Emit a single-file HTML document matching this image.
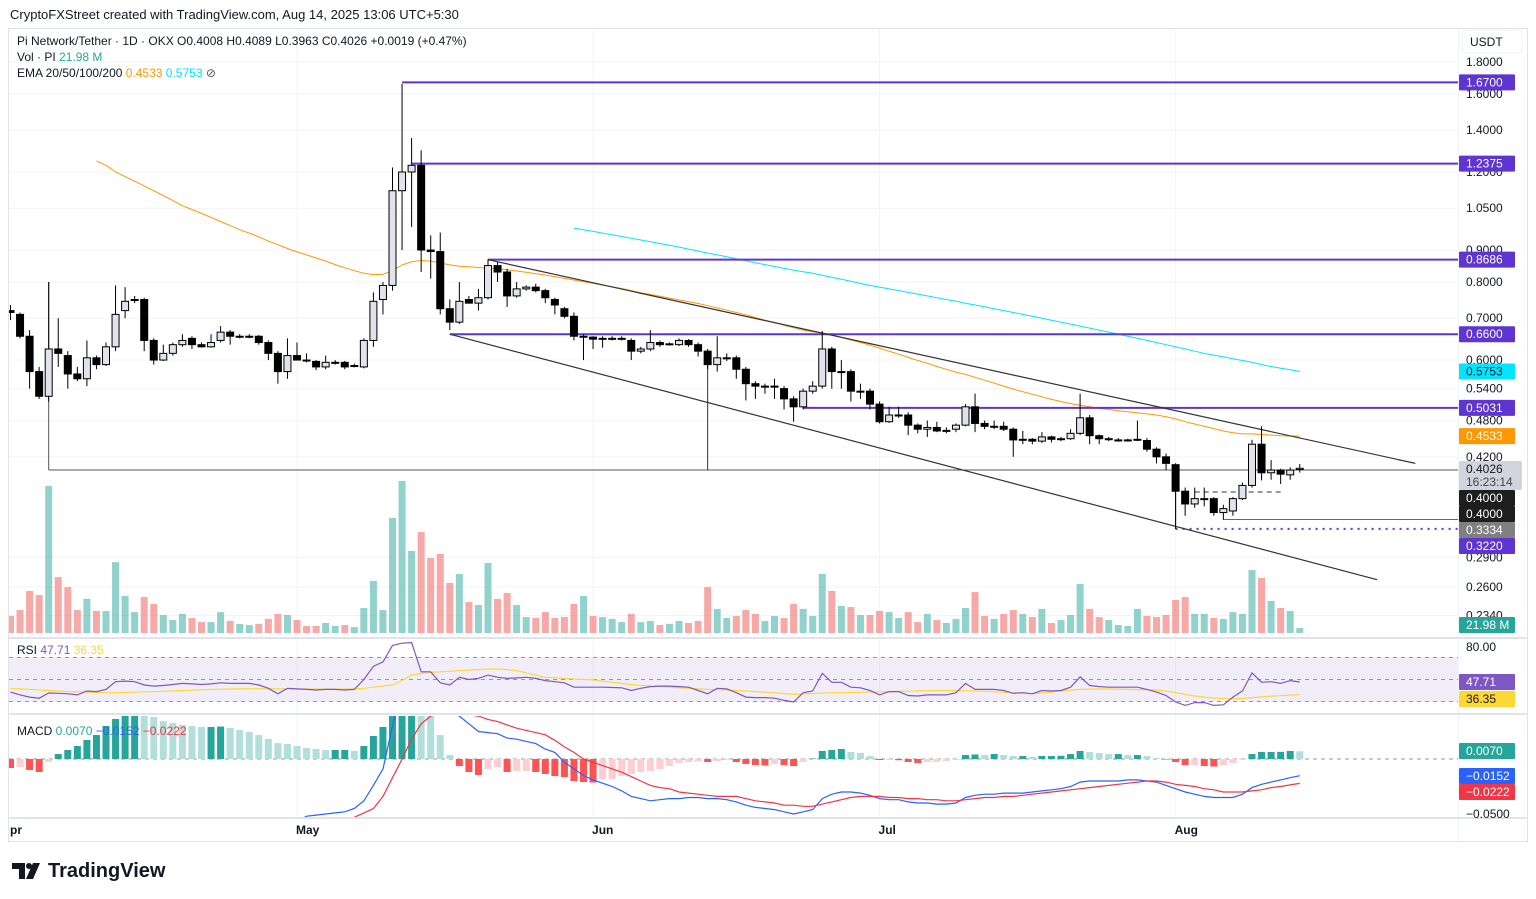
<!DOCTYPE html>
<html><head><meta charset="utf-8"><title>PI/USDT chart</title>
<style>
html,body{margin:0;padding:0;background:#fff;width:1536px;height:899px;overflow:hidden;font-family:"Liberation Sans",sans-serif;}
svg{display:block}
</style></head>
<body>
<svg id="chart" width="1536" height="899" viewBox="0 0 1536 899" xmlns="http://www.w3.org/2000/svg" font-family="Liberation Sans, sans-serif">
<defs>
<clipPath id="mainClip"><rect x="9" y="29" width="1449" height="608"/></clipPath>
<clipPath id="rsiClip"><rect x="9" y="639" width="1449" height="74"/></clipPath>
<clipPath id="macdClip"><rect x="9" y="716" width="1449" height="101"/></clipPath>
</defs>
<text x="10" y="19" font-size="13" fill="#131722">CryptoFXStreet created with TradingView.com, Aug 14, 2025 13:06 UTC+5:30</text>
<rect x="8.5" y="28.5" width="1519" height="813" fill="none" stroke="#e0e3eb"/>
<line x1="1458.5" y1="29" x2="1458.5" y2="841" stroke="#f0f3fa"/>
<g id="grid"></g>
<g id="volume" clip-path="url(#mainClip)"></g>
<g id="emas" clip-path="url(#mainClip)"></g>
<g id="drawings" clip-path="url(#mainClip)"></g>
<g id="candles" clip-path="url(#mainClip)"></g>
<g id="rsi" clip-path="url(#rsiClip)"></g>
<g id="macd" clip-path="url(#macdClip)"></g>
<g id="axis"></g>
<g id="legend">
<text x="17" y="45" font-size="12" fill="#131722">Pi Network/Tether · 1D · OKX  O0.4008  H0.4089  L0.3963  C0.4026  +0.0019 (+0.47%)</text>
<text x="17" y="61" font-size="12" fill="#131722">Vol · PI  <tspan fill="#26a69a">21.98 M</tspan></text>
<text x="17" y="77" font-size="12" fill="#131722">EMA 20/50/100/200  <tspan fill="#ff9800">0.4533</tspan>  <tspan fill="#00e5ff">0.5753</tspan>  <tspan fill="#555">⊘</tspan></text>
<text x="17" y="654" font-size="12" fill="#131722">RSI  <tspan fill="#7e57c2">47.71</tspan>  <tspan fill="#fdd835">36.35</tspan></text>
<text x="17" y="735" font-size="12" fill="#131722">MACD  <tspan fill="#26a69a">0.0070</tspan>  <tspan fill="#2962ff">−0.0152</tspan>  <tspan fill="#f23645">−0.0222</tspan></text>
</g>
<g>
<path d="M12 863 H25 V879 H19 V869 H12 Z" fill="#131722"/>
<circle cx="29" cy="866" r="3" fill="#131722"/>
<path d="M33 863 H40 L33 879 H26 Z" fill="#131722"/>
<text x="48" y="877" font-size="20" font-weight="bold" fill="#131722">TradingView</text>
</g>
</svg>
<script>
// ---------- DATA ----------
const opens=[.72,.71,.655,.575,.525,.625,.61,.57,.56,.605,.59,.63,.72,.75,.75,.645,.60,.615,.635,.65,.635,.63,.645,.665,.655,.655,.655,.64,.615,.575,.61,.60,.597,.585,.595,.595,.588,.585,.645,.75,.79,1.12,1.20,1.23,.90,.895,.725,.69,.75,.74,.755,.85,.83,.76,.78,.785,.775,.75,.725,.705,.655,.653,.65,.65,.65,.645,.62,.625,.64,.637,.635,.645,.635,.62,.59,.605,.605,.58,.55,.545,.545,.54,.52,.505,.535,.545,.625,.575,.575,.535,.535,.51,.478,.49,.49,.472,.465,.468,.463,.465,.472,.505,.475,.47,.47,.465,.448,.448,.445,.452,.449,.449,.458,.485,.454,.449,.447,.447,.448,.446,.432,.42,.408,.37,.353,.36,.36,.342,.344,.36,.378,.44,.396,.40,.393,.4008];
const highs=[.735,.715,.67,.585,.80,.70,.62,.585,.645,.61,.64,.79,.785,.76,.755,.65,.635,.64,.66,.655,.64,.66,.68,.67,.66,.66,.658,.645,.62,.65,.64,.615,.60,.61,.60,.598,.592,.65,.77,.80,1.22,1.66,1.36,1.30,.95,.96,.75,.80,.76,.78,.87,.86,.84,.80,.79,.795,.78,.755,.73,.715,.66,.655,.655,.655,.655,.65,.63,.67,.645,.64,.65,.648,.64,.625,.655,.615,.61,.585,.555,.55,.56,.545,.525,.54,.555,.668,.63,.60,.58,.55,.54,.515,.505,.505,.495,.475,.48,.478,.468,.475,.51,.53,.48,.48,.478,.468,.462,.45,.46,.454,.452,.465,.53,.49,.456,.452,.45,.449,.48,.45,.435,.425,.41,.375,.375,.375,.362,.352,.362,.382,.447,.47,.415,.402,.404,.4089];
const lows=[.695,.65,.54,.52,.515,.585,.54,.555,.545,.58,.587,.62,.70,.74,.62,.59,.598,.61,.63,.625,.628,.628,.64,.635,.65,.65,.635,.60,.55,.56,.60,.595,.578,.58,.59,.58,.584,.582,.63,.71,.775,.90,.98,.83,.81,.71,.67,.685,.74,.72,.75,.80,.73,.755,.775,.77,.74,.71,.70,.645,.60,.625,.628,.645,.645,.60,.615,.62,.63,.633,.632,.63,.608,.58,.575,.598,.56,.517,.52,.53,.52,.50,.478,.50,.53,.54,.54,.54,.515,.52,.50,.475,.476,.485,.455,.458,.452,.46,.458,.46,.47,.46,.465,.465,.462,.42,.44,.44,.442,.443,.445,.447,.455,.44,.44,.445,.444,.444,.445,.428,.41,.40,.322,.338,.348,.35,.338,.333,.338,.358,.375,.385,.386,.38,.386,.3963];
const closes=[.715,.655,.575,.525,.625,.615,.57,.56,.605,.59,.63,.71,.745,.75,.645,.60,.615,.635,.645,.635,.63,.64,.665,.655,.655,.655,.64,.615,.575,.61,.60,.598,.585,.595,.595,.585,.588,.645,.745,.79,1.12,1.20,1.23,.90,.895,.725,.69,.745,.74,.755,.85,.83,.76,.78,.785,.775,.755,.735,.705,.655,.655,.648,.65,.65,.65,.62,.625,.64,.635,.637,.645,.635,.62,.59,.605,.605,.58,.55,.545,.545,.545,.52,.505,.535,.545,.625,.575,.575,.535,.535,.51,.478,.49,.49,.472,.465,.468,.462,.463,.472,.505,.475,.47,.47,.465,.447,.448,.445,.452,.448,.449,.458,.485,.454,.449,.449,.447,.447,.448,.432,.42,.41,.37,.353,.36,.36,.342,.347,.36,.378,.44,.396,.40,.394,.40,.4026];
const volumesM=[75,101,185,167,647,246,202,101,150,97,97,312,163,92,158,128,79,57,84,66,48,48,92,53,40,35,40,62,84,79,57,31,31,44,31,35,26,110,229,101,506,669,361,444,330,348,220,260,136,123,308,150,176,123,70,66,92,66,70,128,163,75,70,62,48,84,48,53,35,40,53,44,53,202,106,66,75,101,84,53,75,66,128,106,75,260,185,119,114,79,79,97,92,66,92,48,84,57,44,62,110,180,75,62,84,101,84,70,106,44,57,79,216,106,70,57,35,31,106,75,70,79,145,158,84,84,66,62,92,84,277,242,141,110,97,21.98];
const ema100Start=9;
const ema100=[1.25,1.23,1.2,1.18,1.16,1.14,1.12,1.1,1.08,1.06,1.045,1.03,1.015,1.0,.985,.97,.958,.945,.93,.918,.905,.894,.884,.874,.864,.853,.843,.834,.826,.822,.823,.834,.852,.862,.866,.864,.858,.852,.848,.846,.844,.842,.84,.837,.833,.829,.825,.821,.816,.811,.806,.801,.796,.791,.786,.781,.775,.769,.764,.759,.754,.749,.744,.739,.733,.727,.721,.715,.709,.702,.695,.689,.682,.676,.67,.666,.663,.658,.652,.646,.64,.634,.627,.62,.613,.606,.599,.593,.586,.58,.574,.569,.563,.557,.551,.545,.539,.534,.529,.524,.519,.515,.511,.508,.505,.502,.5,.498,.496,.494,.492,.49,.487,.483,.478,.474,.47,.466,.462,.459,.457,.457,.456,.455,.454,.4535,.4533];
const ema200Start=59;
const ema200=[.976,.97,.964,.958,.952,.946,.94,.934,.928,.922,.916,.91,.903,.897,.89,.884,.878,.871,.865,.859,.853,.847,.841,.836,.831,.826,.82,.814,.808,.802,.796,.79,.785,.78,.775,.77,.765,.76,.755,.75,.745,.74,.735,.73,.725,.72,.715,.71,.705,.7,.695,.69,.685,.68,.675,.67,.665,.66,.655,.65,.645,.64,.635,.63,.625,.62,.615,.611,.607,.603,.599,.595,.59,.586,.582,.579,.5753];
const rsiValues=[38.5,36,34,33,37.7,37.5,37,36,39.5,39,41,48,48.5,48,45,44,44.5,45.5,46.5,46,45.5,46,47,46.5,46.5,46.5,45,42,37,42,41.5,41,40.5,41,41,40.5,41,50,62,66,81,83,83.5,57,57,47,45,52,50,51,54,52,51,51.5,52,51,49,48,47,43,43,43,43,42.7,42.5,40,42,43.5,44,44,43.5,43,40,37,42,41.5,38,34,33.5,33.5,33,31,29.5,38,39.5,55.6,47.5,47.5,43,42.5,40,36,39,39,35.5,35,36,36,36,38,46.5,41,41,41,40,37.5,38,37,40,39.5,40,43,52.5,44.5,43.5,43,43,43,43,41,38.5,35.5,29.5,26.5,29,29,26.5,27,34,39.5,56,47.5,48,46.5,49,47.71];
const rsiMA=[42,41.5,41,40.5,40,39.5,39,38.8,38.5,38.2,38,38,38.2,38.5,38.8,39,39.3,39.6,40,40.3,40.6,41,41.2,41.4,41.5,41.6,41.6,41.6,41.5,41.5,41.4,41.4,41.3,41.3,41.3,41.4,41.5,42,43,44,45,49,54,55.5,56.5,57,57.5,58,58.5,59,59.5,59.5,59,58,56,54,52,51.5,51,50.5,50,49.5,48.5,47.5,46.5,45.5,44.7,44,43.5,43,42.5,42,41.5,41,40.7,40.5,40,39.5,39,38.5,38,37.3,36.5,36.8,37.2,37.6,38,38,38.2,38.4,38.6,38.8,39,39.2,39.4,39.6,39.8,39.9,40,40,39.8,39.5,39.2,38.8,38.4,38,37.6,37,37.8,38.6,39.5,40.3,41,41.3,41.5,41.4,41.2,41,40.8,40.6,40.5,39.5,38,36.5,35,34,33.2,32.7,32.5,32.8,33.5,34.2,34.8,35.3,35.8,36.35];
// MACD arrays in units of 0.001
const macdLine=[-80,-84,-89,-94,-96,-94,-90,-85,-80,-76,-72,-68,-65,-63,-62,-62,-62,-62,-62,-62,-62,-62,-61,-61,-61,-61,-61,-60,-60,-59,-57,-52,-51,-50,-49,-48,-45,-38,-24,-9,30,62,78,74,66,48,42,39,32,25,24,23,19,18,16,14,9,6,-3,-9,-15,-19,-22,-25,-29,-34,-36,-38,-37,-36,-36,-35,-35,-36,-36,-37,-39,-42,-44,-45,-46,-48,-50,-48,-46,-36,-32,-30,-30,-31,-33,-36,-37,-37,-39,-40,-40,-41,-41,-40,-35,-33,-32,-32,-31,-31,-31,-30,-29,-28,-27,-25,-21,-20,-20,-20,-20,-19,-19,-20,-21,-24,-27,-30,-32,-34,-35,-35,-35,-32,-26,-23,-21,-19,-17,-15.2];
const signalLine=[-72,-75,-78,-81,-84,-87,-89,-90,-90,-89,-88,-86,-84,-82,-80,-78,-76,-74,-72,-71,-70,-69,-68,-67,-66,-65,-64,-63,-62,-62,-61,-60,-59,-58,-57,-56,-53,-49,-45,-34,-17,0,18,32,39,42,42,42,40,39,36,34,31,28,26,24,22,17,11,6,0,-3,-6,-9,-12,-16,-20,-24,-26,-27,-30,-31,-32,-33,-34,-34,-34,-36,-38,-39,-40,-42,-42,-43,-43,-41,-39,-37,-35,-34,-34,-34,-35,-35,-36,-36,-37,-37,-38,-38,-37,-36,-35,-35,-34,-34,-33,-32,-31,-30,-29,-28,-27,-26,-25,-24,-23,-22,-21,-20,-20,-21,-23,-24,-25,-27,-28,-30,-30,-30,-29,-28,-26,-25,-23.5,-22.2];
const macdHist=[-8.2,-7.3,-10,-11.8,-2.7,4.5,8.2,11.8,17.3,21.8,30,36.4,42.7,43.6,41.8,38.2,34.5,32.7,30.9,30,29.1,29.1,29.5,28.2,26.4,24.5,21.8,18.2,14.5,13.6,11.8,10,9.1,8.2,8.2,8.2,7.3,11.8,20.9,29.1,40.9,50,54.5,50,45.5,21.8,3.6,-6.4,-11.8,-14.5,-9.1,-7.3,-11.8,-10.9,-10.9,-11.8,-13.6,-15.5,-16.4,-20,-20.9,-21.4,-18.2,-18.2,-15.5,-13.6,-11.8,-10.9,-9.1,-6.4,-3.6,-2.7,-1.8,-2.7,-1.8,-0.9,-2.7,-4.5,-5.5,-5.9,-4.5,-5.5,-6.4,-2.7,0.5,7.3,8.2,9.1,6.4,5.5,2.7,-0.9,-0.9,-1.1,-2.7,-3.6,-2.7,-2.7,-1.8,-0.9,3.6,4.1,3.6,4.5,3.6,2.7,2.7,1.8,2.7,2.7,2.9,4.5,7.3,6.4,5.5,4.5,4.5,3.6,3.6,2.7,0.9,-0.5,-2.7,-5.5,-5.5,-6.4,-6.8,-5.5,-3.6,-0.9,4.5,6.4,6.4,6.5,7.3,7.0];
const priceTicks=[1.8,1.6,1.4,1.2,1.05,0.9,0.8,0.7,0.6,0.54,0.48,0.42,0.29,0.26,0.234];
const monthLabels=["pr","May","Jun","Jul","Aug"];
const monthIndex=[0,30,61,91,122];
const levelPrices=[1.67,1.2375,0.8686,0.66,0.5031];
const levelStart=[41,42,50,46,83];

// ---------- SCALES ----------
const NS="http://www.w3.org/2000/svg";
function xAt(i){return 10.5+9.55*i;}
function yP(p){return 62+271.3*Math.log(1.8/p);}
function yVol(v){return 633-v/4.4;}
function yRsi(r){return 679.5-(r-50)*1.1;}
function yMacd(v){return 759-v*1.1;}
function mk(tag,attrs,parent){const e=document.createElementNS(NS,tag);for(const k in attrs)e.setAttribute(k,attrs[k]);parent.appendChild(e);return e;}
const G=id=>document.getElementById(id);

// grid
const grid=G('grid');
priceTicks.forEach(p=>{const l=mk('line',{x1:9,x2:1458,y1:yP(p),y2:yP(p),stroke:'#f3f4f7'},grid);

});
monthIndex.forEach(i=>{if(i===0)return;const l=mk('line',{x1:xAt(i),x2:xAt(i),y1:29,y2:818,stroke:'#f3f4f7'},grid);

});
[638,714,818].forEach(y=>{const l=mk('line',{x1:9,x2:1528,y1:y,y2:y,stroke:'#e0e3eb','stroke-width':2},grid);

});

// volume
const vg=G('volume');
volumesM.forEach((v,i)=>{const up=closes[i]>=opens[i];const y=yVol(v);
const r=mk('rect',{x:xAt(i)-3.5,y:y,width:7,height:633-y,fill:up?'rgba(38,166,154,0.5)':'rgba(239,83,80,0.5)'},vg);

});

// EMAs
const eg=G('emas');
function linePath(arr,start,fy){return arr.map((v,k)=>(k?'L':'M')+xAt(start+k).toFixed(1)+' '+fy(v).toFixed(1)).join(' ');}
const e1=mk('path',{d:linePath(ema100,ema100Start,yP),fill:'none',stroke:'#ff9800','stroke-width':1},eg);


const e2=mk('path',{d:linePath(ema200,ema200Start,yP),fill:'none',stroke:'#00e5ff','stroke-width':1},eg);



// drawings
const dg=G('drawings');
function dl(x1,y1,x2,y2,st,w,dash,name){const l=mk('line',{x1,y1,x2,y2,stroke:st,'stroke-width':w},dg);if(dash)l.setAttribute('stroke-dasharray',dash);

return l;}
dl(xAt(4),yP(0.4),1458,yP(0.4),'#555',1,null,'support-line-0-4000');
dl(xAt(4),yP(0.80),xAt(4),yP(0.4),'#555',1,null,'support-anchor-left');
dl(xAt(73),yP(0.59),xAt(73),yP(0.4),'#333',1,null,'support-anchor-mid');
dl(xAt(122),yP(0.41),xAt(122),yP(0.322),'#333',1,null,'low-anchor');
dl(xAt(127),yP(0.3334),1458,yP(0.3334),'#666',1,null,'support-line-0-3334');
dl(xAt(122),yP(0.322),1458,yP(0.322),'#5e35d0',2,'2 5','support-line-0-3220');
dl(xAt(124),yP(0.369),xAt(133),yP(0.369),'#333',1,'5 4','range-dashed-line');
levelPrices.forEach((p,k)=>{dl(xAt(levelStart[k]),yP(p),1458,yP(p),'#5e35d0',2,null,'resistance-level-'+k);});
dl(xAt(50),yP(0.8686),xAt(147.1),yP(0.41),'#333',1.2,null,'channel-upper-line');
dl(xAt(46),yP(0.66),xAt(143.1),yP(0.267),'#333',1.2,null,'channel-lower-line');

// candles
const cg=G('candles');
opens.forEach((o,i)=>{const c=closes[i],h=highs[i],l=lows[i],x=xAt(i),up=c>=o;
const g=mk('g',{},cg);


mk('line',{x1:x,x2:x,y1:yP(h),y2:yP(l),stroke:'#000','stroke-width':1},g);
const top=yP(Math.max(o,c)),bot=yP(Math.min(o,c));
mk('rect',{x:x-3.5,y:top,width:7,height:Math.max(1,bot-top),fill:up?'#e0e3eb':'#000',stroke:'#000','stroke-width':1},g);});

// RSI
const rg=G('rsi');
const band=mk('rect',{x:9,y:yRsi(70),width:1449,height:yRsi(30)-yRsi(70),fill:'rgba(126,87,194,0.1)'},rg);


[70,50,30].forEach(v=>{const l=mk('line',{x1:9,x2:1458,y1:yRsi(v),y2:yRsi(v),stroke:'#9598a1','stroke-dasharray':'4 4'},rg);

});
const rm=mk('path',{d:linePath(rsiMA,0,yRsi),fill:'none',stroke:'#fdd835','stroke-width':1.2},rg);


const rl=mk('path',{d:linePath(rsiValues,0,yRsi),fill:'none',stroke:'#7e57c2','stroke-width':1.2},rg);



// MACD
const mg=G('macd');
const zl=mk('line',{x1:9,x2:1458,y1:yMacd(0),y2:yMacd(0),stroke:'#9598a1','stroke-dasharray':'4 4'},mg);


macdHist.forEach((v,i)=>{const prev=i?macdHist[i-1]:0;let col;
if(v>=0)col=v>=prev?'#26a69a':'#b2dfdb';else col=v<prev?'#ff5252':'#ffcdd2';
const y0=yMacd(0),y1=yMacd(v);
const r=mk('rect',{x:xAt(i)-3.5,y:Math.min(y0,y1),width:7,height:Math.abs(y1-y0),fill:col},mg);

});
const ml=mk('path',{d:linePath(macdLine,0,yMacd),fill:'none',stroke:'#2962ff','stroke-width':1.2},mg);


const sl=mk('path',{d:linePath(signalLine,0,yMacd),fill:'none',stroke:'#f23645','stroke-width':1.2},mg);



// axis labels
const ag=G('axis');
const ub=mk('rect',{x:1462,y:30,width:60,height:23,rx:4,fill:'#fff',stroke:'#eef0f3'},ag);


const ut=mk('text',{x:1470,y:46,'font-size':12,fill:'#131722'},ag);ut.textContent='USDT';


priceTicks.forEach(p=>{const t=mk('text',{x:1466,y:yP(p)+4,'font-size':12,fill:'#131722'},ag);t.textContent=p.toFixed(4);

});
function tag(y,txt,bg,fg,name,h){h=h||16;const g=mk('g',{},ag);


mk('rect',{x:1459,y:y-h/2,width:56,height:h,fill:bg,rx:1},g);
const t=mk('text',{x:1466,y:y+4,'font-size':12,fill:fg},g);t.textContent=txt;return g;}
tag(yP(1.67),'1.6700','#5e35d0','#fff','tag-1-6700');
tag(yP(1.2375),'1.2375','#5e35d0','#fff','tag-1-2375');
tag(yP(0.8686),'0.8686','#5e35d0','#fff','tag-0-8686');
tag(yP(0.66),'0.6600','#5e35d0','#fff','tag-0-6600');
tag(yP(0.5753),'0.5753','#00e5ff','#131722','tag-ema-cyan');
tag(yP(0.5031),'0.5031','#5e35d0','#fff','tag-0-5031');
tag(yP(0.4533),'0.4533','#ff9800','#fff','tag-ema-orange');
const lp=mk('g',{},ag);


mk('rect',{x:1459,y:461,width:63,height:29,fill:'#d1d4dc',rx:2},lp);
const t1=mk('text',{x:1466,y:473,'font-size':12,fill:'#131722'},lp);t1.textContent='0.4026';
const t2=mk('text',{x:1466,y:486,'font-size':12,fill:'#434651'},lp);t2.textContent='16:23:14';
tag(498,'0.4000','#1e1e1e','#fff','tag-0-4000-a');
tag(514,'0.4000','#1e1e1e','#fff','tag-0-4000-b');
tag(530,'0.3334','#808080','#fff','tag-0-3334');
tag(546,'0.3220','#5e35d0','#fff','tag-0-3220');
tag(625,'21.98 M','#26a69a','#fff','tag-volume');
const r80=mk('text',{x:1466,y:651,'font-size':12,fill:'#131722'},ag);r80.textContent='80.00';


tag(yRsi(47.71),'47.71','#7e57c2','#fff','tag-rsi');
tag(699,'36.35','#fdd835','#131722','tag-rsi-ma');
tag(751,'0.0070','#26a69a','#fff','tag-macd-hist');
tag(776,'−0.0152','#2962ff','#fff','tag-macd-line');
tag(792,'−0.0222','#f23645','#fff','tag-macd-signal');
const m50=mk('text',{x:1466,y:818,'font-size':12,fill:'#131722'},ag);m50.textContent='−0.0500';


monthLabels.forEach((m,k)=>{const t=mk('text',{x:k===0?10:xAt(monthIndex[k])-1,y:834,'font-size':12,fill:'#131722','font-weight':'bold'},ag);t.textContent=m;

});
</script>
</body></html>
